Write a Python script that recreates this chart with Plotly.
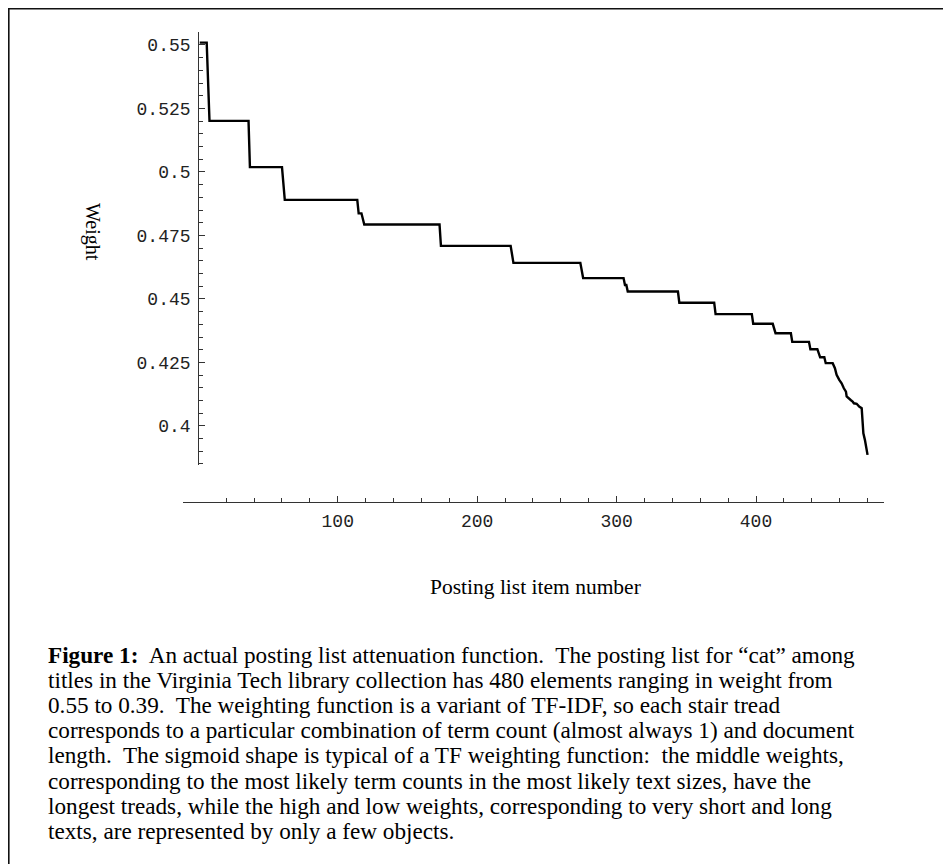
import plotly.graph_objects as go

# Corner points of the staircase (posting list item number, weight)
item_number = [1, 6, 8, 36, 37, 60, 62, 114, 115, 117, 119, 173, 174, 224, 226,
               274, 276, 305, 306, 307, 308, 344, 345, 370, 371, 397, 398,
               412, 414, 425, 426, 438, 439, 444, 446, 449, 450, 455,
               456.6, 457.8, 459.7, 461.4, 463, 464.5, 465, 466.2, 467.9, 469.3,
               470.2, 472.2, 474, 475.8, 477, 478.1, 480]
weight = [0.5509, 0.5509, 0.5201, 0.5201, 0.5019, 0.5019, 0.4890, 0.4890, 0.4837, 0.4837, 0.4793, 0.4793, 0.4709, 0.4709, 0.4642,
          0.4642, 0.4582, 0.4582, 0.4555, 0.4555, 0.4529, 0.4529, 0.4485, 0.4485, 0.4440, 0.4440, 0.4402,
          0.4402, 0.4365, 0.4365, 0.4331, 0.4331, 0.4302, 0.4302, 0.4270, 0.4270, 0.4247, 0.4247,
          0.4227, 0.4201, 0.4181, 0.4168, 0.4148, 0.4135, 0.4116, 0.4109, 0.4102, 0.4096,
          0.4089, 0.4087, 0.4076, 0.4070, 0.3971, 0.3945, 0.3886]

x_tick_vals = [100, 200, 300, 400]
x_tick_text = ["100", "200", "300", "400"]
x_minor_vals = [20, 40, 60, 80, 120, 140, 160, 180, 220, 240, 260, 280, 320, 340, 360, 380,
                420, 440, 460, 480]
y_tick_vals = [0.4, 0.425, 0.45, 0.475, 0.5, 0.525, 0.55]
y_tick_text = ["0.4", "0.425", "0.45", "0.475", "0.5", "0.525", "0.55"]

caption_lines = [
    "<b>Figure 1:</b>\u00a0 An actual posting list attenuation function.\u00a0 The posting list for \u201ccat\u201d among",
    "titles in the Virginia Tech library collection has 480 elements ranging in weight from",
    "0.55 to 0.39.\u00a0 The weighting function is a variant of TF-IDF, so each stair tread",
    "corresponds to a particular combination of term count (almost always 1) and document",
    "length.\u00a0 The sigmoid shape is typical of a TF weighting function:\u00a0 the middle weights,",
    "corresponding to the most likely term counts in the most likely text sizes, have the",
    "longest treads, while the high and low weights, corresponding to very short and long",
    "texts, are represented by only a few objects.",
]

# The page body has an 8px margin, so the figure starts at page (8, 8)
OFF = 8
W, H = 943, 856
L, R, T, B = 175, 67, 24, 362
PW, PH = W - L - R, H - T - B


def px(page_x):
    return (page_x - OFF - L) / PW


def py(page_y):
    return (H - B - (page_y - OFF)) / PH


serif = "Liberation Serif, Times New Roman, serif"

fig = go.Figure()
fig.add_trace(go.Scatter(x=item_number, y=weight, mode="lines",
                         line=dict(color="black", width=2.4), hoverinfo="skip"))

axis_color = "#333333"
mono = dict(family="Liberation Mono, Courier New, monospace", size=18, color="#222222")

annotations = [
    dict(text="Weight", xref="paper", yref="paper", x=px(92), y=py(232),
         xanchor="center", yanchor="middle", textangle=90, showarrow=False,
         font=dict(family=serif, size=20, color="black")),
    dict(text="Posting list item number", xref="paper", yref="paper", x=px(535), y=py(587),
         xanchor="center", yanchor="middle", showarrow=False,
         font=dict(family=serif, size=21.5, color="black")),
]
for i, line in enumerate(caption_lines):
    annotations.append(dict(text=line, xref="paper", yref="paper", x=px(46), y=py(655 + 25.1 * i),
                            xanchor="left", yanchor="middle", align="left", showarrow=False,
                            font=dict(family=serif, size=23.2, color="black")))

fig.update_layout(
    width=W, height=H,
    margin=dict(l=L, r=R, t=T, b=B),
    paper_bgcolor="white", plot_bgcolor="white",
    showlegend=False,
    xaxis=dict(
        domain=[0, 1], range=[-11, 491.8], anchor="free", position=0,
        showgrid=False, zeroline=False, showline=True, linecolor=axis_color, linewidth=1.3,
        tickmode="array", tickvals=x_tick_vals, ticktext=x_tick_text,
        ticks="inside", ticklen=6, tickwidth=1.2, tickcolor=axis_color,
        tickfont=mono, ticklabelstandoff=2,
        minor=dict(tickmode="array", tickvals=x_minor_vals, ticks="inside", ticklen=4,
                   tickwidth=1, tickcolor=axis_color),
    ),
    yaxis=dict(
        domain=[py(465), 1], range=[0.3846, 0.5551], anchor="free", position=px(198.3),
        showgrid=False, zeroline=False, showline=True, linecolor=axis_color, linewidth=1.3,
        tickmode="array", tickvals=y_tick_vals, ticktext=y_tick_text,
        ticks="inside", ticklen=6, tickwidth=1.2, tickcolor=axis_color,
        tickfont=mono, ticklabelstandoff=4,
        minor=dict(dtick=0.005, tick0=0.4, ticks="inside", ticklen=4,
                   tickwidth=1, tickcolor=axis_color),
    ),
    shapes=[dict(type="rect", xref="paper", yref="paper",
                 x0=px(8.8), x1=px(1000), y0=py(920), y1=py(8.8),
                 line=dict(color="#111111", width=1.6), fillcolor="rgba(0,0,0,0)", layer="below")],
    annotations=annotations,
)

fig.write_html("out.html")
